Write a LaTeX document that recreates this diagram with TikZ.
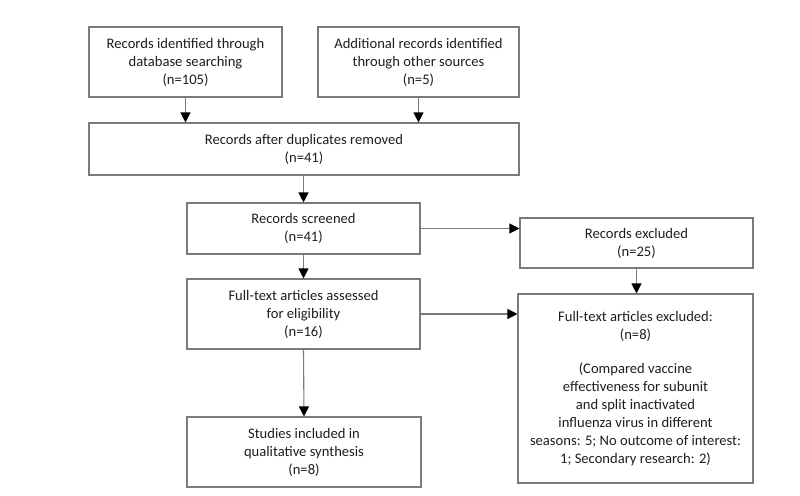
\documentclass[tikz,border=0pt]{standalone}
\usepackage{fontspec}
\setmainfont{Carlito}
\usetikzlibrary{arrows.meta}
\definecolor{linegray}{HTML}{7A7A7A}
\definecolor{txt}{HTML}{1E1E1E}
\tikzset{
  box/.style={draw=linegray, line width=1.1pt, rectangle, align=center, inner sep=2pt,
    text=txt, font=\fontsize{14.6}{18}\selectfont},
  arr/.style={draw=linegray, line width=1.1pt, -{Triangle[width=10pt,length=10pt,color=black]}}
}
\begin{document}
\begin{tikzpicture}[x=1pt,y=-1pt]
\useasboundingbox (0,0) rectangle (800,495);
\node[box, minimum width=193pt, minimum height=70pt] (b1) at (185.5,62) {Records identified through\\database searching\\(n=105)};
\node[box, minimum width=201pt, minimum height=70pt] (b2) at (418.5,62) {Additional records identified\\through other sources\\(n=5)};
\node[box, minimum width=430pt, minimum height=52pt] (dup) at (304,149) {Records after duplicates removed\\(n=41)};
\node[box, minimum width=233pt, minimum height=51pt] (scr) at (303.5,228.5) {Records screened\\(n=41)};
\node[box, minimum width=233pt, minimum height=70pt] (ft) at (303.5,314) {Full-text articles assessed\\for eligibility\\(n=16)};
\node[box, minimum width=234pt, minimum height=70pt] (st) at (304,452) {Studies included in\\qualitative synthesis\\(n=8)};
\node[box, minimum width=233pt, minimum height=50pt] (ex) at (636.5,243) {Records excluded\\(n=25)};
\node[box, minimum width=235pt, minimum height=189pt] (fx) at (635.5,388.5) {Full-text articles excluded:\\(n=8)\\[16pt](Compared vaccine\\effectiveness for subunit\\and split inactivated\\influenza virus in different\\seasons: 5; No outcome of interest:\\1; Secondary research: 2)};
\draw[arr] (b1.south) -- (b1.south |- dup.north);
\draw[arr] (b2.south) -- (b2.south |- dup.north);
\draw[arr] (scr.north |- dup.south) -- (scr.north);
\draw[arr] (scr.south) -- (ft.north);
\draw[arr] (ft.south) -- (st.north);
\draw[arr] (scr.east) -- (scr.east -| ex.west);
\draw[arr] (ft.east) -- (ft.east -| fx.west);
\draw[arr] (ex.south) -- (ex.south |- fx.north);
\end{tikzpicture}
\end{document}
